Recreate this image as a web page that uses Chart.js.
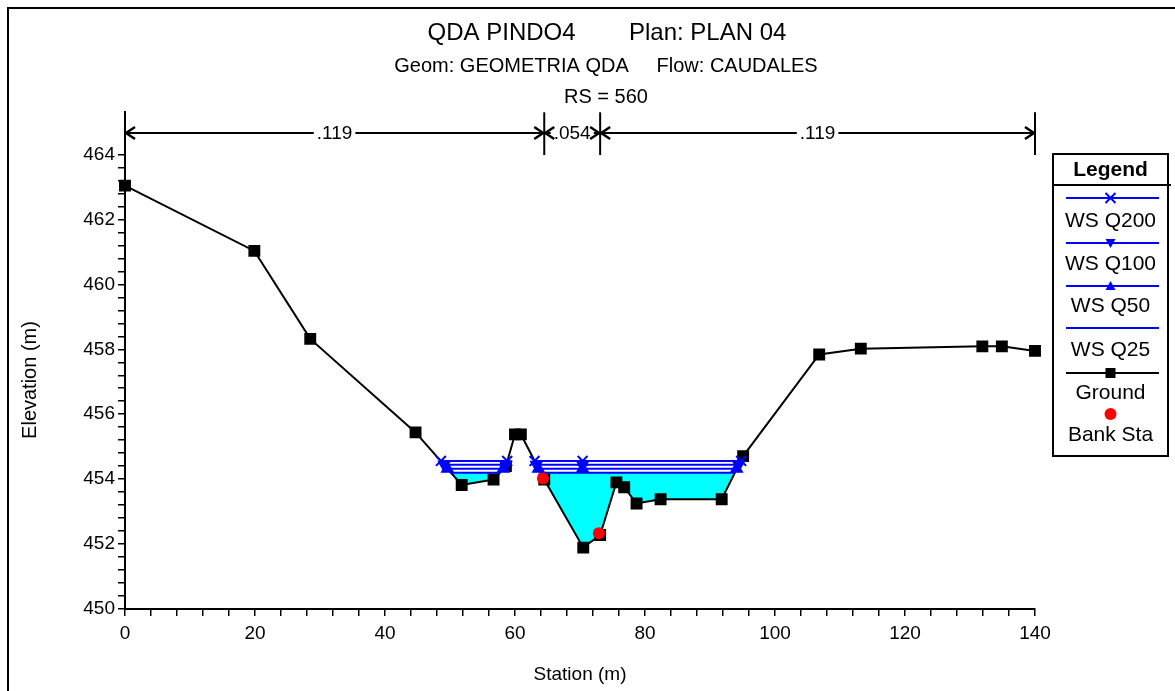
<!DOCTYPE html>
<html>
<head>
<meta charset="utf-8">
<script src="https://cdn.jsdelivr.net/npm/chart.js@4.4.1/dist/chart.umd.min.js"></script>
<style>
  html, body { margin: 0; padding: 0; background: #fff; }
</style>
</head>
<body>
<canvas id="xsection" width="1175" height="691"></canvas>
<script>
const FONT = "'Liberation Sans', Arial, sans-serif";

// ground profile
const stations = [0, 19.9, 28.5, 44.7, 51.8, 56.7, 58.6, 60.0, 60.9, 64.5, 70.5, 73.1, 75.6, 76.8, 78.7, 82.4, 91.8, 95.1, 106.8, 113.2, 131.9, 134.9, 140];
const elevations = [463.04, 461.03, 458.32, 455.44, 453.82, 453.99, 454.40, 455.38, 455.38, 453.99, 451.89, 452.28, 453.90, 453.75, 453.25, 453.38, 453.38, 454.71, 457.84, 458.02, 458.09, 458.09, 457.95];

// bank stations
const bankSta = [64.3, 72.9];
const bankElev = [454.02, 452.33];

// water surfaces
const wsNames = ['WS Q200', 'WS Q100', 'WS Q50', 'WS Q25'];
const wsElev = [454.56, 454.44, 454.32, 454.20];
// edges of left pool, edges of main channel (plus the point over the thalweg)
const wsLeftPool = [[48.6, 58.8], [49.1, 58.6], [49.6, 58.2], [50.1, 57.7]];
const wsChannel = [[63.0, 70.4, 94.8], [63.3, 70.4, 94.4], [63.6, 70.4, 94.1], [63.9, 70.4, 93.8]];

// manning n values
const nSta = [0, 64.5, 73.1, 140];
const nVals = ['.119', '.054', '.119'];

const wsStyles = [
  { pointStyle: 'crossRot', pointRadius: 7, rotation: 0 },
  { pointStyle: 'triangle', pointRadius: 6, rotation: 180 },
  { pointStyle: 'triangle', pointRadius: 6, rotation: 0 },
  { pointStyle: 'circle', pointRadius: 0, rotation: 0 },
];

function wsData(i) {
  const y = wsElev[i];
  const pts = wsLeftPool[i].map(x => ({ x: x, y: y }));
  pts.push({ x: 61, y: null });
  wsChannel[i].forEach(x => pts.push({ x: x, y: y }));
  return pts;
}

// water area under the lowest profile
function waterData() {
  const y = wsElev[3];
  const pts = [];
  const parts = [[wsLeftPool[3][0], wsLeftPool[3][1]], [wsChannel[3][0], wsChannel[3][2]]];
  parts.forEach((p, k) => {
    if (k > 0) pts.push({ x: 61, y: null });
    pts.push({ x: p[0], y: y });
    stations.forEach((s, j) => {
      if (s > p[0] && s < p[1]) pts.push({ x: s, y: elevations[j] });
    });
    pts.push({ x: p[1], y: y });
  });
  return pts;
}

const datasets = [];
datasets.push({
  label: 'Bank Sta',
  data: bankSta.map((s, i) => ({ x: s, y: bankElev[i] })),
  showLine: false,
  pointStyle: 'circle',
  pointRadius: 6,
  pointBackgroundColor: '#ff0000',
  pointBorderColor: '#ff0000',
  pointBorderWidth: 0,
});
wsNames.forEach((name, i) => {
  datasets.push({
    label: name,
    data: wsData(i),
    borderColor: '#0000ff',
    borderWidth: 2,
    pointStyle: wsStyles[i].pointStyle,
    pointRadius: wsStyles[i].pointRadius,
    pointRotation: wsStyles[i].rotation,
    pointBackgroundColor: '#0000ff',
    pointBorderColor: '#0000ff',
    pointBorderWidth: 2,
    spanGaps: false,
  });
});
datasets.push({
  label: 'Ground',
  data: stations.map((s, i) => ({ x: s, y: elevations[i] })),
  borderColor: '#000000',
  borderWidth: 2,
  pointStyle: 'rect',
  pointRadius: 7,
  pointBackgroundColor: '#000000',
  pointBorderColor: '#000000',
  clip: false,
});
datasets.push({
  label: 'water',
  data: waterData(),
  borderWidth: 0,
  pointRadius: 0,
  backgroundColor: '#00ffff',
  fill: { value: wsElev[3] },
  spanGaps: false,
});

function isEven(v) {
  return Math.abs(v - Math.round(v / 2) * 2) < 1e-6;
}

function drawMark(ctx, kind, x, y) {
  ctx.save();
  if (kind === 'x') {
    ctx.strokeStyle = '#0000ff';
    ctx.lineWidth = 2;
    ctx.beginPath();
    ctx.moveTo(x - 5, y - 5); ctx.lineTo(x + 5, y + 5);
    ctx.moveTo(x + 5, y - 5); ctx.lineTo(x - 5, y + 5);
    ctx.stroke();
  } else if (kind === 'down' || kind === 'up') {
    const s = kind === 'up' ? -1 : 1;
    ctx.fillStyle = '#0000ff';
    ctx.beginPath();
    ctx.moveTo(x - 5, y - 4 * s); ctx.lineTo(x + 5, y - 4 * s); ctx.lineTo(x, y + 5 * s);
    ctx.closePath();
    ctx.fill();
  } else if (kind === 'square') {
    ctx.fillStyle = '#000';
    ctx.fillRect(x - 5, y - 5, 10, 10);
  } else if (kind === 'dot') {
    ctx.fillStyle = '#ff0000';
    ctx.beginPath();
    ctx.arc(x, y, 6, 0, Math.PI * 2);
    ctx.fill();
  }
  ctx.restore();
}

const decor = {
  id: 'decor',
  afterDraw(chart) {
    const ctx = chart.ctx;
    const xs = chart.scales.x;
    const area = chart.chartArea;
    ctx.save();

    // frame
    ctx.strokeStyle = '#000';
    ctx.lineWidth = 2;
    ctx.strokeRect(8, 8, 1190, 700);

    // titles
    ctx.fillStyle = '#000';
    ctx.textAlign = 'center';
    ctx.textBaseline = 'middle';
    ctx.font = '24px ' + FONT;
    ctx.fillText('QDA PINDO4        Plan: PLAN 04', 607, 33);
    ctx.font = '20px ' + FONT;
    ctx.fillText('Geom: GEOMETRIA QDA     Flow: CAUDALES', 606, 66);
    ctx.fillText('RS = 560', 606, 97);

    // y axis title
    ctx.save();
    ctx.translate(30, 380);
    ctx.rotate(-Math.PI / 2);
    ctx.fillText('Elevation (m)', 0, 0);
    ctx.restore();

    // manning n values
    const yA = 133;
    const px = nSta.map(s => xs.getPixelForValue(s));
    ctx.font = '19px ' + FONT;
    ctx.lineWidth = 2;
    ctx.strokeStyle = '#000';
    px.forEach(p => {
      ctx.beginPath();
      ctx.moveTo(p, area.top);
      ctx.lineTo(p, 155);
      ctx.stroke();
    });
    for (let i = 0; i < nVals.length; i++) {
      const a = px[i], b = px[i + 1];
      ctx.lineWidth = 2;
      ctx.beginPath();
      ctx.moveTo(a, yA); ctx.lineTo(b, yA);
      ctx.stroke();
      const w = ctx.measureText(nVals[i]).width;
      const c = (a + b) / 2;
      ctx.fillStyle = '#fff';
      ctx.fillRect(c - w / 2 - 3, yA - 9, w + 6, 18);
      ctx.fillStyle = '#000';
      ctx.fillText(nVals[i], c, yA + 1);
      ctx.lineWidth = 2.5;
      ctx.beginPath();
      ctx.moveTo(a + 10, yA - 6); ctx.lineTo(a + 1, yA); ctx.lineTo(a + 10, yA + 6);
      ctx.moveTo(b - 10, yA - 6); ctx.lineTo(b - 1, yA); ctx.lineTo(b - 10, yA + 6);
      ctx.stroke();
    }

    // legend box
    const L = 1053, T = 154, R = 1168, B = 456;
    const cx = (L + R) / 2;
    ctx.lineWidth = 2;
    ctx.strokeRect(L, T, R - L, B - T);
    ctx.beginPath();
    ctx.moveTo(L, 185); ctx.lineTo(1171, 185);
    ctx.stroke();
    ctx.font = 'bold 21px ' + FONT;
    ctx.fillText('Legend', cx, 170);
    ctx.font = '21px ' + FONT;
    const items = [
      { text: wsNames[0], line: '#0000ff', mark: 'x', ly: 198, ty: 221 },
      { text: wsNames[1], line: '#0000ff', mark: 'down', ly: 243, ty: 264 },
      { text: wsNames[2], line: '#0000ff', mark: 'up', ly: 286, ty: 306 },
      { text: wsNames[3], line: '#0000ff', mark: null, ly: 328, ty: 350 },
      { text: 'Ground', line: '#000', mark: 'square', ly: 373, ty: 393 },
      { text: 'Bank Sta', line: null, mark: 'dot', ly: 414, ty: 435 },
    ];
    items.forEach(it => {
      if (it.line) {
        ctx.strokeStyle = it.line;
        ctx.lineWidth = 2;
        ctx.beginPath();
        ctx.moveTo(1066, it.ly); ctx.lineTo(1159, it.ly);
        ctx.stroke();
      }
      if (it.mark) drawMark(ctx, it.mark, cx, it.ly);
      ctx.fillStyle = '#000';
      ctx.fillText(it.text, cx, it.ty);
    });
    ctx.restore();
  }
};

new Chart(document.getElementById('xsection').getContext('2d'), {
  type: 'line',
  data: { datasets: datasets },
  options: {
    responsive: false,
    animation: false,
    events: [],
    layout: { padding: { left: 0, right: 140, top: 112.3, bottom: 0 } },
    plugins: {
      legend: { display: false },
      tooltip: { enabled: false },
    },
    scales: {
      x: {
        type: 'linear',
        min: 0,
        max: 140,
        afterFit: s => { s.height = 82; },
        ticks: {
          stepSize: 4,
          autoSkip: false,
          maxRotation: 0,
          padding: 6,
          color: '#000',
          font: { family: FONT, size: 19 },
          callback: v => (v % 20 === 0 ? String(v) : ''),
        },
        grid: { drawOnChartArea: false, tickLength: 7, color: '#000', lineWidth: 1.5 },
        border: { color: '#000', width: 2 },
        title: {
          display: true,
          text: 'Station (m)',
          color: '#000',
          font: { family: FONT, size: 19 },
          padding: { top: 0, bottom: 5 },
        },
      },
      y: {
        type: 'linear',
        min: 450,
        max: 465.3,
        afterFit: s => { s.width = 125; },
        afterBuildTicks: s => { s.ticks = s.ticks.filter(t => t.value <= 464.0001); },
        ticks: {
          stepSize: 0.4,
          autoSkip: false,
          padding: 3,
          color: '#000',
          font: { family: FONT, size: 19 },
          callback: v => (isEven(v) ? String(Math.round(v)) : ''),
        },
        grid: { drawOnChartArea: false, tickLength: 7, color: '#000', lineWidth: 1.5 },
        border: { color: '#000', width: 2 },
      },
    },
  },
  plugins: [decor],
});
</script>
</body>
</html>
